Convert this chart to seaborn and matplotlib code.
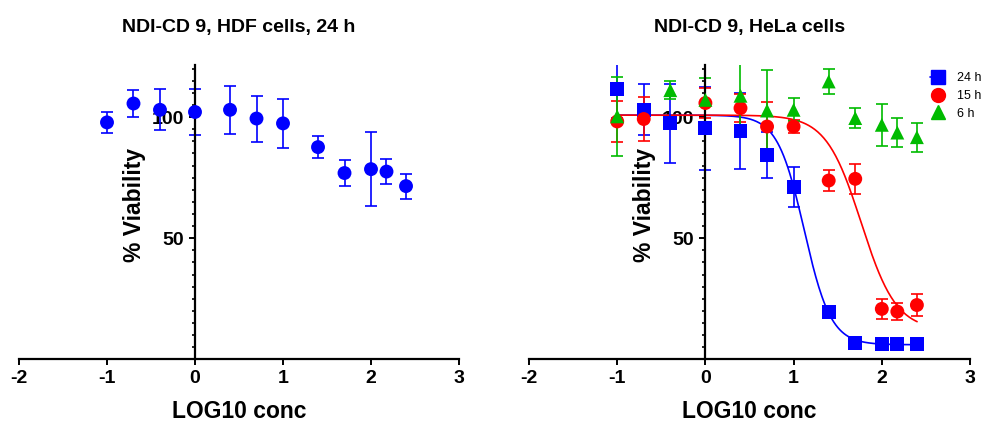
import numpy as np
import pandas as pd
import matplotlib
matplotlib.use("Agg")
import matplotlib.pyplot as plt
from matplotlib.lines import Line2D
import seaborn as sns

# ---------------- data ----------------
conc = [0.1, 0.2, 0.4, 1, 2.5, 5, 10, 25, 50, 100, 150, 250]

hdf_mean = [97.8, 105.6, 103.0, 102.1, 103.0, 99.4, 97.4, 87.6, 76.9, 78.5, 77.5, 71.5]
hdf_sd = [4.2, 5.4, 8.4, 9.4, 10.0, 9.5, 10.0, 4.6, 5.2, 15.2, 5.2, 5.2]

hela24_conc = [0.1, 0.2, 0.4, 1, 2.5, 5, 10, 25, 50, 100, 150, 250]
hela24_mean = [111.6, 103.0, 97.5, 95.4, 94.3, 84.4, 71.1, 19.4, 6.6, 6.2, 6.2, 6.2]
hela24_sd = [12.0, 10.6, 16.3, 17.2, 15.7, 9.6, 8.4, 1.5, 1.5, 1.5, 1.5, 1.5]

hela15_conc = [0.1, 0.2, 1, 2.5, 5, 10, 25, 50, 100, 150, 250]
hela15_mean = [98.2, 99.2, 105.8, 103.7, 96.1, 96.1, 73.8, 74.5, 20.8, 19.7, 22.4]
hela15_sd = [8.3, 9.0, 6.0, 5.7, 10.0, 2.5, 4.3, 6.1, 4.1, 3.5, 4.5]

hela6_conc = [0.1, 0.4, 1, 2.5, 5, 10, 25, 50, 100, 150, 250]
hela6_mean = [100.3, 111.1, 107.1, 108.8, 102.7, 103.0, 114.7, 99.6, 96.8, 93.6, 91.7]
hela6_sd = [16.3, 3.6, 9.0, 14.7, 16.9, 4.8, 5.2, 4.0, 8.8, 6.1, 6.0]

# fitted 4-parameter logistic curves (top, bottom, logIC50, hill)
fit24 = (100.8, 6.0, 1.12, 2.86)
fit15 = (100.8, 12.0, 1.766, 2.18)
fit_range = (-1.0, 2.4)

series_labels = ["24 h", "15 h", "6 h"]
xticks = [-2, -1, 0, 1, 2, 3]
yticks = [50, 100]

# ---------------- style ----------------
sns.set_theme(style="ticks")
plt.rcParams["font.family"] = ["Liberation Sans", "DejaVu Sans"]
plt.rcParams["font.weight"] = "bold"
plt.rcParams["axes.unicode_minus"] = False
plt.rcParams["text.color"] = "black"
plt.rcParams["axes.labelcolor"] = "black"
plt.rcParams["xtick.color"] = "black"
plt.rcParams["ytick.color"] = "black"

BLUE = "#0000FF"
RED = "#FF0000"
GREEN = "#00BB00"
MS = 10

fig = plt.figure(figsize=(9.81, 4.21), dpi=100)
ax1 = fig.add_axes([19 / 981, 0.1466, 440 / 981, 0.699])
ax2 = fig.add_axes([529 / 981, 0.1466, 441 / 981, 0.699])


def style_axes(ax, title):
    ax.set_xlim(-2, 3)
    ax.set_ylim(0, 121.5)
    ax.spines["top"].set_visible(False)
    ax.spines["right"].set_visible(False)
    ax.spines["left"].set_position(("data", 0))
    for s in ("left", "bottom"):
        ax.spines[s].set_linewidth(1.6)
        ax.spines[s].set_color("black")
    ax.set_xticks(xticks)
    ax.set_xticklabels([str(t) for t in xticks])
    ax.set_yticks(yticks)
    ax.set_yticks(np.arange(5, 121, 5), minor=True)
    ax.tick_params(axis="both", which="major", direction="out", length=4.5,
                   width=1.4, labelsize=14, color="black", labelcolor="black")
    ax.tick_params(axis="y", which="minor", direction="out", length=2.5,
                   width=1.2, color="black")
    ax.tick_params(axis="x", which="minor", bottom=False)
    for lab in ax.get_xticklabels() + ax.get_yticklabels():
        lab.set_fontweight("bold")
    ax.set_xlabel("LOG10 conc", fontsize=16.5, fontweight="bold", va="top",
                  color="black")
    ax.xaxis.set_label_coords(0.5, -0.138)
    ax.set_ylabel("% Viability", fontsize=16.5, fontweight="bold", color="black")
    ax.yaxis.label.set_va("center")
    ax.yaxis.set_label_coords(0.263, 0.525)
    ax.set_title(title, fontsize=14, fontweight="bold", pad=24, color="black")
    ax.grid(False)


def draw_series(ax, c, m, sd, color, marker):
    lc = np.log10(np.array(c, dtype=float))
    df = pd.DataFrame({"logc": lc, "viab": m, "sd": sd})
    ax.errorbar(df["logc"], df["viab"], yerr=df["sd"], fmt="none",
                ecolor=color, elinewidth=1.2, capsize=4.5, capthick=1.2, zorder=2)
    sns.scatterplot(data=df, x="logc", y="viab", ax=ax, color=color,
                    marker=marker, s=MS ** 2, edgecolor="none", linewidth=0,
                    zorder=3, legend=False)


def four_pl(x, params):
    top, bottom, logic50, hill = params
    return bottom + (top - bottom) / (1 + 10 ** ((x - logic50) * hill))


# ---------------- left panel ----------------
draw_series(ax1, conc, hdf_mean, hdf_sd, BLUE, "o")
style_axes(ax1, "NDI-CD 9, HDF cells, 24 h")

# ---------------- right panel ----------------
xx = np.linspace(fit_range[0], fit_range[1], 300)
curves = pd.DataFrame({"x": np.concatenate([xx, xx]),
                       "y": np.concatenate([four_pl(xx, fit24), four_pl(xx, fit15)]),
                       "series": ["24 h"] * len(xx) + ["15 h"] * len(xx)})
sns.lineplot(data=curves, x="x", y="y", hue="series",
             palette={"24 h": BLUE, "15 h": RED}, linewidth=1.2, ax=ax2,
             legend=False, zorder=1)

draw_series(ax2, hela24_conc, hela24_mean, hela24_sd, BLUE, "s")
draw_series(ax2, hela15_conc, hela15_mean, hela15_sd, RED, "o")
draw_series(ax2, hela6_conc, hela6_mean, hela6_sd, GREEN, "^")
style_axes(ax2, "NDI-CD 9, HeLa cells")

handles = [
    Line2D([0], [0], color=BLUE, marker="s", markersize=MS, lw=1.2),
    Line2D([0], [0], color=RED, marker="o", markersize=MS, lw=0),
    Line2D([0], [0], color=GREEN, marker="^", markersize=MS, lw=0),
]
leg = ax2.legend(handles, series_labels, loc="upper left", bbox_to_anchor=(0.91, 0.975),
                 frameon=False, prop={"size": 9, "weight": "normal"},
                 handlelength=1.2, handletextpad=0.9, borderpad=0, borderaxespad=0,
                 labelspacing=0.46)
for t in leg.get_texts():
    t.set_color("black")

fig.savefig("out.png", dpi=100)
